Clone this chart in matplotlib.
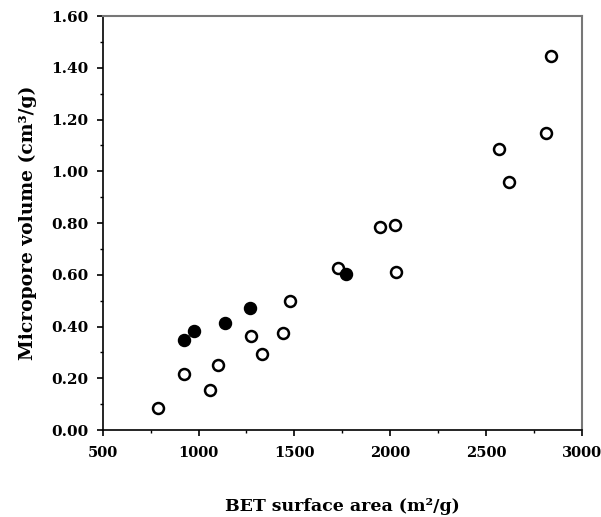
import matplotlib
import matplotlib.pyplot as plt
from matplotlib.ticker import MultipleLocator, FormatStrFormatter
from matplotlib.transforms import ScaledTranslation

matplotlib.use("Agg")
plt.rcParams["font.family"] = ["DejaVu Serif", "DejaVu Sans"]
plt.rcParams["font.weight"] = "bold"

# open circles
open_bet = [790, 926, 1061, 1103, 1274, 1332, 1441, 1477, 1727, 1945, 2023,
            2033, 2569, 2621, 2813, 2839]
open_vol = [0.087, 0.215, 0.155, 0.252, 0.364, 0.296, 0.374, 0.500, 0.628,
            0.783, 0.792, 0.612, 1.085, 0.958, 1.148, 1.446]

# filled circles
filled_bet = [926, 978, 1139, 1269, 1768]
filled_vol = [0.347, 0.382, 0.413, 0.471, 0.605]

dpi = 100
fig = plt.figure(figsize=(601 / dpi, 517 / dpi), dpi=dpi)
ax = fig.add_axes([0.171, 0.168, 0.797, 0.801])

ax.scatter(open_bet, open_vol, s=62, facecolors="white", edgecolors="black",
           linewidths=1.8, zorder=3)
ax.scatter(filled_bet, filled_vol, s=75, facecolors="black",
           edgecolors="black", linewidths=1.0, zorder=4)

ax.set_xlim(500, 3000)
ax.set_ylim(0, 1.6)
ax.xaxis.set_major_locator(MultipleLocator(500))
ax.xaxis.set_minor_locator(MultipleLocator(250))
ax.yaxis.set_major_locator(MultipleLocator(0.2))
ax.yaxis.set_minor_locator(MultipleLocator(0.1))
ax.yaxis.set_major_formatter(FormatStrFormatter("%.2f"))

ax.tick_params(which="major", direction="out", length=4.5, width=1.2,
               labelsize=11, pad=6)
ax.tick_params(which="minor", direction="out", length=2.5, width=1.0)
ax.tick_params(axis="x", pad=7, labelsize=10.5)
for lbl in ax.get_xticklabels() + ax.get_yticklabels():
    lbl.set_fontweight("bold")

# nudge the last x tick label so it stays inside the figure
fig.canvas.draw()
last = ax.get_xticklabels()[-1]
last.set_transform(last.get_transform()
                   + ScaledTranslation(-4 / 72, 0, fig.dpi_scale_trans))

for side in ["left", "bottom"]:
    ax.spines[side].set_linewidth(1.2)
    ax.spines[side].set_color("black")
for side in ["top", "right"]:
    ax.spines[side].set_linewidth(1.5)
    ax.spines[side].set_color("#777777")

ax.set_xlabel("BET surface area (m²/g)", fontsize=12.5,
              fontweight="bold", labelpad=27)
ax.set_ylabel("Micropore volume (cm³/g)", fontsize=13.5,
              fontweight="bold", labelpad=10)

fig.savefig("out.png", dpi=dpi)
